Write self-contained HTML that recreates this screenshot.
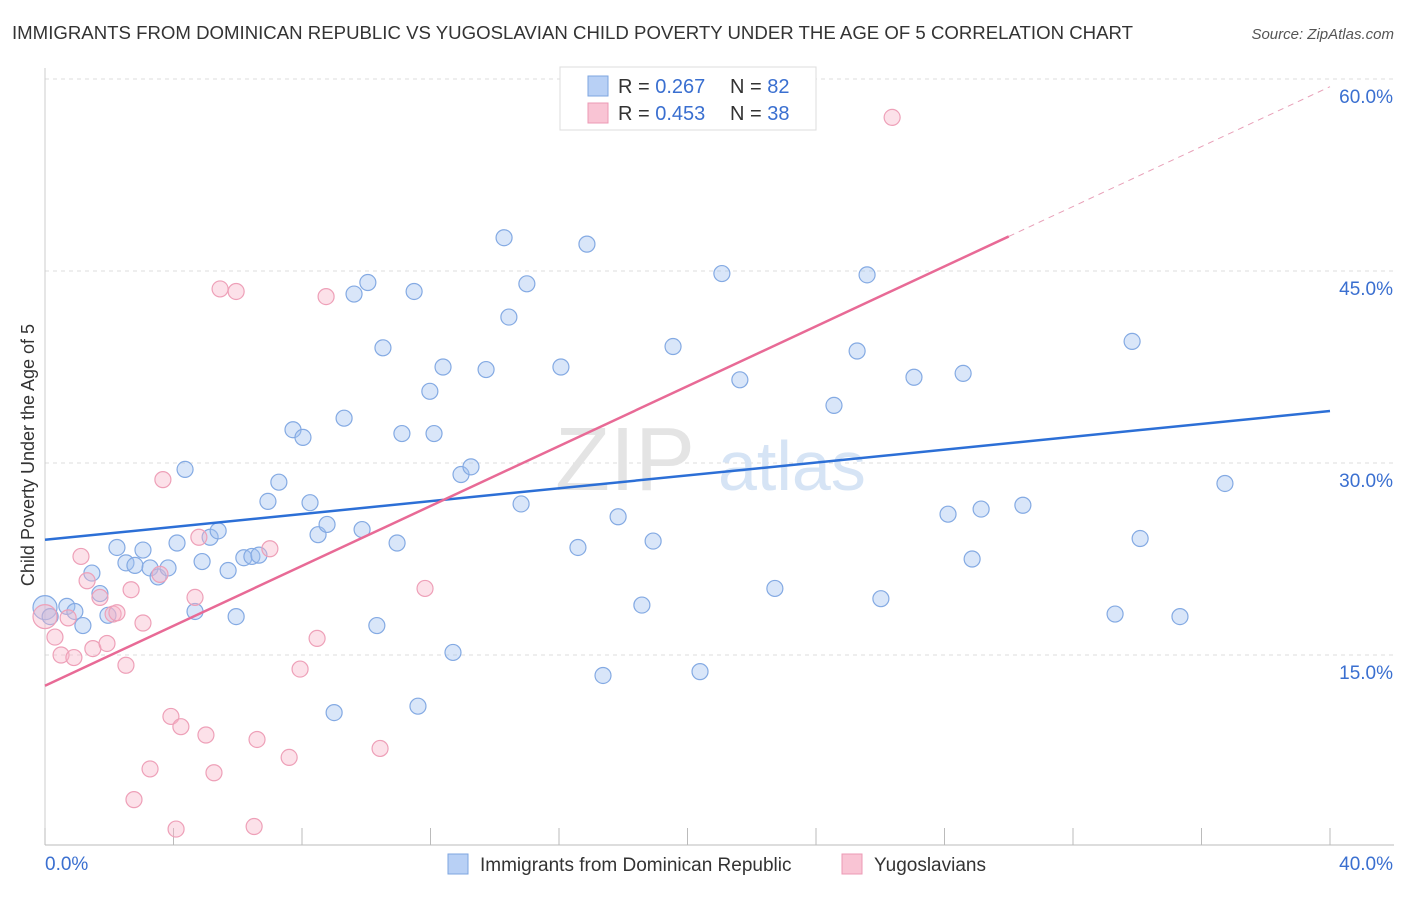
<!DOCTYPE html>
<html><head><meta charset="utf-8"><style>
body{margin:0;background:#fff;font-family:"Liberation Sans",sans-serif;}
svg text{font-family:"Liberation Sans",sans-serif;}
</style></head><body>
<svg width="1406" height="892" xmlns="http://www.w3.org/2000/svg" id="chart">
<text x="12" y="39" font-size="18" fill="#333" textLength="1121" lengthAdjust="spacingAndGlyphs">IMMIGRANTS FROM DOMINICAN REPUBLIC VS YUGOSLAVIAN CHILD POVERTY UNDER THE AGE OF 5 CORRELATION CHART</text>
<text x="1394" y="39" font-size="15" fill="#555" font-style="italic" text-anchor="end">Source: ZipAtlas.com</text>
<g id="grid"></g>
<g>
<text x="555" y="490" font-size="90" font-family="Liberation Serif" fill="#e4e4e4">ZIP</text>
<text x="718" y="490" font-size="70" fill="#d6e4f5">atlas</text>
</g>
<g id="axes"></g>
<g id="pts"></g>
<g id="lines"></g>
<text x="34" y="455" font-size="18" fill="#333" text-anchor="middle" transform="rotate(-90 34 455)">Child Poverty Under the Age of 5</text>
<g>
<rect x="560" y="67" width="256" height="63" fill="#fff" stroke="#ddd"/>
<rect x="588" y="76" width="20" height="20" fill="#b8d0f5" stroke="#7ea6e0"/>
<rect x="588" y="103" width="20" height="20" fill="#f9c4d4" stroke="#ec9ab5"/>
<text x="618" y="93" font-size="20" fill="#333">R = <tspan fill="#3a6fd0">0.267</tspan></text>
<text x="730" y="93" font-size="20" fill="#333">N = <tspan fill="#3a6fd0">82</tspan></text>
<text x="618" y="120" font-size="20" fill="#333">R = <tspan fill="#3a6fd0">0.453</tspan></text>
<text x="730" y="120" font-size="20" fill="#333">N = <tspan fill="#3a6fd0">38</tspan></text>
</g>
<g>
<rect x="448" y="854" width="20" height="20" fill="#b8d0f5" stroke="#7ea6e0"/>
<text x="480" y="871" font-size="19" fill="#333">Immigrants from Dominican Republic</text>
<rect x="842" y="854" width="20" height="20" fill="#f9c4d4" stroke="#ec9ab5"/>
<text x="874" y="871" font-size="19" fill="#333">Yugoslavians</text>
</g>
</svg>
<script>
const yTicks=[15,30,45,60];
const yTickLabels=["15.0%","30.0%","45.0%","60.0%"];
const xTicks=[0,4,8,12,16,20,24,28,32,36,40];
const blueX=[0,0.16,0.68,0.93,1.18,1.46,1.71,1.96,2.24,2.52,2.8,3.05,3.27,3.52,3.83,4.11,4.36,4.67,4.89,5.14,5.39,5.7,5.95,6.19,6.44,6.66,6.94,7.28,7.72,8.03,8.25,8.5,8.78,9,9.31,9.62,9.87,10.05,10.33,10.52,10.96,11.11,11.49,11.61,11.98,12.11,12.39,12.7,12.95,13.26,13.73,14.29,14.44,14.82,15,16.06,16.59,16.87,17.37,17.84,18.58,18.93,19.55,20.39,21.07,21.63,22.72,24.56,25.28,25.59,26.02,27.05,28.11,28.58,28.86,29.14,30.44,33.31,33.84,34.09,35.33,36.73];
const blueY=[18.7,18,18.8,18.4,17.3,21.4,19.8,18.1,23.4,22.2,22,23.2,21.8,21.1,21.8,23.75,29.5,18.4,22.3,24.2,24.7,21.6,18,22.6,22.7,22.8,27,28.5,32.6,32,26.9,24.4,25.2,10.5,33.5,43.2,24.8,44.1,17.3,39,23.75,32.3,43.4,11,35.6,32.3,37.5,15.2,29.1,29.7,37.3,47.6,41.4,26.8,44,37.5,23.4,47.1,13.4,25.8,18.9,23.9,39.1,13.7,44.8,36.5,20.2,34.5,38.75,44.7,19.4,36.7,26,37,22.5,26.4,26.7,18.2,39.5,24.1,18,28.4];
const pinkX=[0,0.31,0.5,0.72,0.9,1.12,1.31,1.49,1.71,1.93,2.12,2.24,2.52,2.68,2.77,3.05,3.27,3.58,3.67,3.92,4.08,4.23,4.67,4.79,5.01,5.26,5.45,5.95,6.6,6.51,7,7.6,7.94,8.47,8.75,10.43,11.83,26.37];
const pinkY=[18,16.4,15,17.9,14.8,22.7,20.8,15.5,19.5,15.9,18.2,18.3,14.2,20.1,3.7,17.5,6.1,21.3,28.7,10.2,1.4,9.4,19.5,24.2,8.75,5.8,43.6,43.4,8.4,1.6,23.3,7,13.9,16.3,43,7.7,20.2,57];
const blueTrend=[24.0,34.06];
const pinkTrend=[12.6,59.4];
const NS="http://www.w3.org/2000/svg";
const X=v=>45+v*32.125, Y=v=>847-v*12.8;
function mk(t,a,p){const e=document.createElementNS(NS,t);for(const k in a)e.setAttribute(k,a[k]);p.appendChild(e);return e;}
const grid=document.getElementById('grid'),axes=document.getElementById('axes'),pts=document.getElementById('pts'),lines=document.getElementById('lines');
yTicks.forEach((t,i)=>{
 const l=mk('line',{x1:45,x2:1394,y1:Y(t),y2:Y(t),stroke:'#ddd','stroke-dasharray':'4,4'},grid);
 
 
 const tx=mk('text',{x:1393,y:Y(t)+24,'font-size':19,fill:'#3a6fd0','text-anchor':'end'},axes);
 tx.textContent=yTickLabels[i];
 
 
});
const al=mk('line',{x1:45,x2:1394,y1:845,y2:845,stroke:'#bbb'},axes);


const yl=mk('line',{x1:45,x2:45,y1:68,y2:845,stroke:'#ccc'},axes);


xTicks.forEach(t=>{
 const l=mk('line',{x1:X(t),x2:X(t),y1:828,y2:845,stroke:'#bbb'},axes);
 
 
});
const x0=mk('text',{x:45,y:870,'font-size':19,fill:'#3a6fd0'},axes);x0.textContent='0.0%';


const x1=mk('text',{x:1393,y:870,'font-size':19,fill:'#3a6fd0','text-anchor':'end'},axes);x1.textContent='40.0%';


blueX.forEach((v,i)=>{
 const c=mk('circle',{cx:X(v),cy:Y(blueY[i]),r:i==0?12:8,fill:'rgba(160,192,240,0.4)',stroke:'#84aae3','stroke-width':1.2},pts);
 
 
});
pinkX.forEach((v,i)=>{
 const c=mk('circle',{cx:X(v),cy:Y(pinkY[i]),r:i==0?12:8,fill:'rgba(247,180,200,0.4)',stroke:'#eea0b8','stroke-width':1.2},pts);
 
 
});
const bl=mk('line',{x1:X(0),y1:Y(blueTrend[0]),x2:X(40),y2:Y(blueTrend[1]),stroke:'#2c6fd6','stroke-width':2.5},lines);


const pm=x=>pinkTrend[0]+(pinkTrend[1]-pinkTrend[0])*x/40;
const pl=mk('line',{x1:X(0),y1:Y(pm(0)),x2:X(30),y2:Y(pm(30)),stroke:'#e86a96','stroke-width':2.5},lines);


const pd=mk('line',{x1:X(30),y1:Y(pm(30)),x2:X(40),y2:Y(pm(40)),stroke:'#e8a0b8','stroke-width':1,'stroke-dasharray':'6,5'},lines);


</script>
</body></html>
